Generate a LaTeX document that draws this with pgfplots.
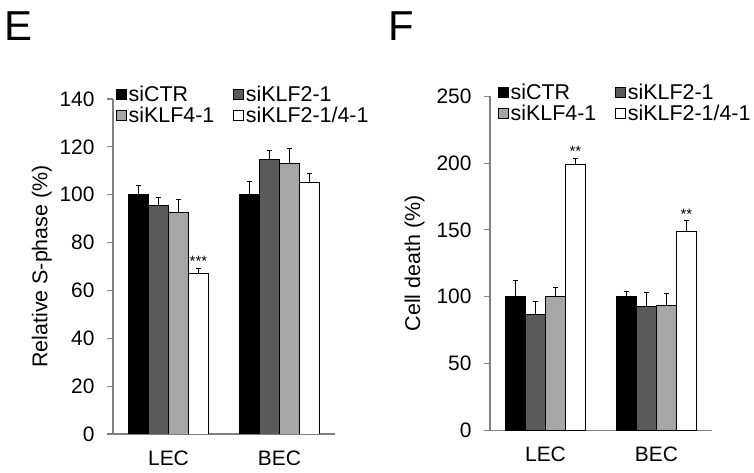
\documentclass[border=0pt]{standalone}
\usepackage{fontspec}
\setmainfont{Liberation Sans}
\usepackage{pgfplots}
\pgfplotsset{compat=1.18}

\definecolor{dgray}{HTML}{5A5A5A}
\definecolor{lgray}{HTML}{A6A6A6}
\definecolor{axgray}{HTML}{808080}

\newcommand\legfont{\fontsize{21.5}{24}\selectfont}

\pgfplotsset{
  panel/.style={
    scale only axis,
    width=222bp,
    ybar=0pt,
    bar width=20bp,
    axis x line*=bottom,
    axis y line*=left,
    axis line style={axgray, line width=1.1bp},
    xmin=-0.5, xmax=1.5,
    ymin=0,
    xtick={0,1},
    xticklabels={LEC,BEC},
    major x tick style={draw=none},
    extra x ticks={-0.5,0.5,1.5},
    extra x tick labels={},
    extra x tick style={major tick length=6bp, tick style={axgray, line width=1.1bp}},
    x tick label style={yshift=-7bp},
    tick align=outside,
    major tick length=6bp,
    y tick style={axgray, line width=1.1bp},
    /pgf/number format/assume math mode=true,
    tick label style={font=\fontsize{21}{23}\selectfont},
    label style={font=\fontsize{21.5}{24}\selectfont},
    yticklabel style={xshift=-9bp},
    legend columns=2,
    legend cell align=left,
    legend style={draw=none, fill=none, font=\legfont,
      at={(0,1)}, anchor=north west, yshift=17bp,
      /tikz/every even column/.append style={column sep=17bp},
      row sep=0bp},
    error bars/y dir=plus,
    error bars/y explicit,
    error bars/error mark options={rotate=90, mark size=2.8bp, line width=0.8bp},
    error bars/error bar style={line width=0.8bp, black},
  },
  sq/.style={draw=black, line width=0.5bp, fill=#1,
    legend image code/.code={\draw[##1, draw=black, line width=0.5bp] (0bp,-5bp) rectangle (10bp,5bp);}},
}

\begin{document}
\begin{tikzpicture}
\path[use as bounding box] (0,0) rectangle (754bp,473bp);

\node[anchor=north west, inner sep=0pt, font=\fontsize{42}{44}\selectfont] at (4bp,473bp-12bp) {E};
\node[anchor=north west, inner sep=0pt, font=\fontsize{42}{44}\selectfont] at (388bp,473bp-12bp) {F};

\begin{axis}[panel,
  at={(113bp,39bp)}, anchor=south west,
  height=335bp,
  ymax=140, ytick={0,20,...,140},
  ylabel={Relative S-phase (\%)},
  ylabel style={at={(axis description cs:-0.32,0.5)}, anchor=center},
]
\addplot[sq=black] coordinates {(0,100) +- (0,4.0) (1,100) +- (0,5.7)};
\addlegendentry{\legfont siCTR}
\addplot[sq=dgray] coordinates {(0,95.6) +- (0,3.4) (1,114.8) +- (0,3.7)};
\addlegendentry{\legfont siKLF2-1}
\addplot[sq=lgray] coordinates {(0,92.6) +- (0,5.5) (1,113.2) +- (0,6.2)};
\addlegendentry{\legfont siKLF4-1}
\addplot[sq=white] coordinates {(0,67.0) +- (0,2.3) (1,105.4) +- (0,3.3)};
\addlegendentry{\legfont siKLF2-1/4-1}
\node[font=\fontsize{15}{15}\selectfont, anchor=south, inner sep=1bp] at (axis cs:0.27,69.3) {***};
\end{axis}

\begin{axis}[panel,
  at={(490bp,42.7bp)}, anchor=south west,
  height=334bp,
  ymax=250, ytick={0,50,...,250},
  ylabel={Cell death (\%)},
  ylabel style={at={(axis description cs:-0.34,0.5)}, anchor=center},
  legend style={xshift=5bp},
]
\addplot[sq=black] coordinates {(0,100) +- (0,12.0) (1,100) +- (0,4.0)};
\addlegendentry{\legfont siCTR}
\addplot[sq=dgray] coordinates {(0,86.5) +- (0,10.0) (1,92.8) +- (0,10.5)};
\addlegendentry{\legfont siKLF2-1}
\addplot[sq=lgray] coordinates {(0,100) +- (0,7.3) (1,93.6) +- (0,9.2)};
\addlegendentry{\legfont siKLF4-1}
\addplot[sq=white] coordinates {(0,199.0) +- (0,4.7) (1,149.2) +- (0,8.0)};
\addlegendentry{\legfont siKLF2-1/4-1}
\node[font=\fontsize{15}{15}\selectfont, anchor=south, inner sep=1bp] at (axis cs:0.27,203.7) {**};
\node[font=\fontsize{15}{15}\selectfont, anchor=south, inner sep=1bp] at (axis cs:1.27,157.2) {**};
\end{axis}
\end{tikzpicture}
\end{document}
